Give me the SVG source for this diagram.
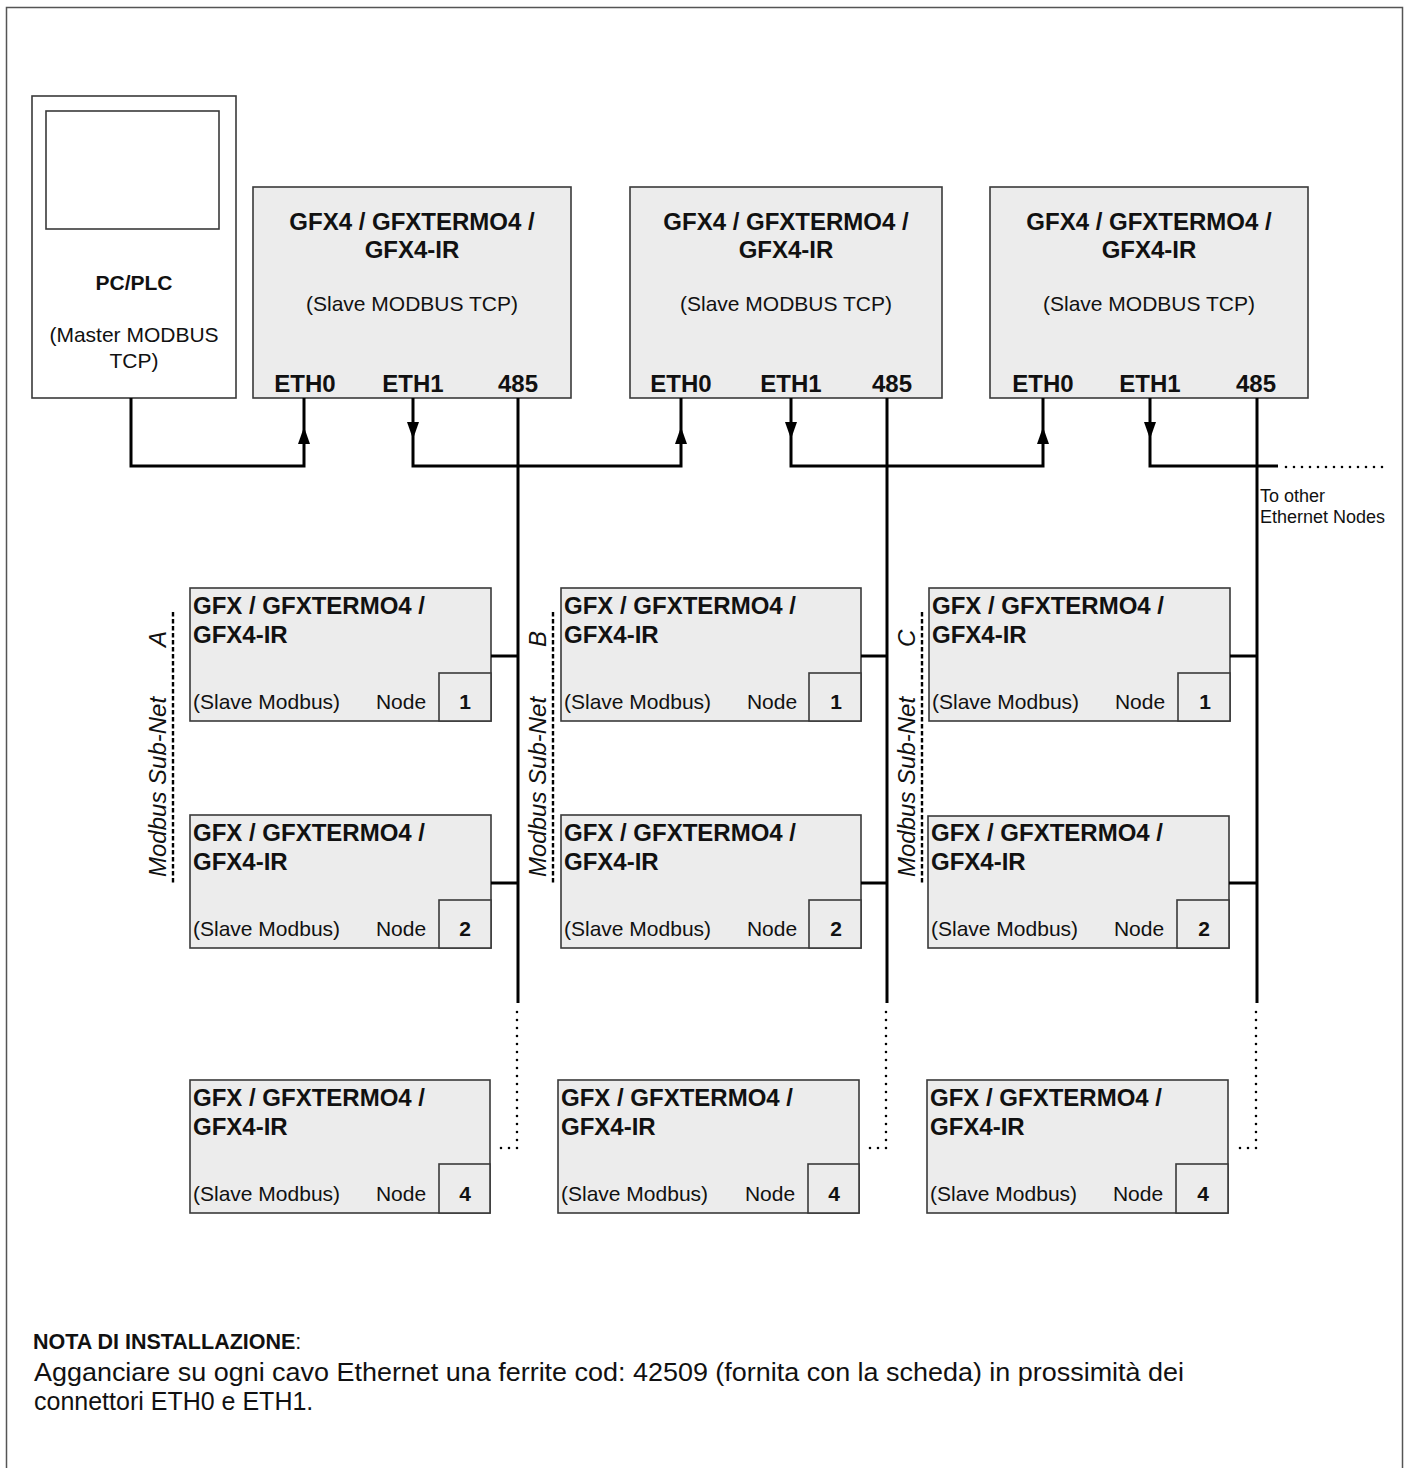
<svg xmlns="http://www.w3.org/2000/svg" width="1404" height="1468" viewBox="0 0 1404 1468">
<style>
text{font-family:"Liberation Sans",Arial,sans-serif;fill:#111}
.box{fill:#ececec;stroke:#3a3a3a;stroke-width:1.6}
.wbox{fill:#fff;stroke:#3a3a3a;stroke-width:1.6}
.b24{font-size:24px;font-weight:bold}
.r21{font-size:21px}
.b21{font-size:21px;font-weight:bold}
.wire{fill:none;stroke:#000;stroke-width:3}
.dot{fill:none;stroke:#000;stroke-width:2.6;stroke-dasharray:0 8;stroke-linecap:round}
.dash{fill:none;stroke:#000;stroke-width:2.4;stroke-dasharray:4.5 2.5}
.lbl{font-size:24px;font-style:italic}
.mid{text-anchor:middle}
</style>
<rect x="6.5" y="7.5" width="1396" height="1470" fill="none" stroke="#555" stroke-width="1.5"/>

<g id="pcplc">
<rect class="wbox" x="32" y="96" width="204" height="302"/>
<rect class="wbox" x="46" y="111" width="173" height="118"/>
<text class="b21 mid" x="134" y="290">PC/PLC</text>
<text class="r21 mid" x="134" y="342">(Master MODBUS</text>
<text class="r21 mid" x="134" y="368">TCP)</text>
</g>

<g id="gfx4-1">
<rect class="box" x="253" y="187" width="318" height="211"/>
<text class="b24 mid" x="412" y="230">GFX4 / GFXTERMO4 /</text>
<text class="b24 mid" x="412" y="258">GFX4-IR</text>
<text class="r21 mid" x="412" y="311">(Slave MODBUS TCP)</text>
<text class="b24 mid" x="305" y="392">ETH0</text>
<text class="b24 mid" x="413" y="392">ETH1</text>
<text class="b24 mid" x="518" y="392">485</text>
</g>
<g id="gfx4-2">
<rect class="box" x="630" y="187" width="312" height="211"/>
<text class="b24 mid" x="786" y="230">GFX4 / GFXTERMO4 /</text>
<text class="b24 mid" x="786" y="258">GFX4-IR</text>
<text class="r21 mid" x="786" y="311">(Slave MODBUS TCP)</text>
<text class="b24 mid" x="681" y="392">ETH0</text>
<text class="b24 mid" x="791" y="392">ETH1</text>
<text class="b24 mid" x="892" y="392">485</text>
</g>
<g id="gfx4-3">
<rect class="box" x="990" y="187" width="318" height="211"/>
<text class="b24 mid" x="1149" y="230">GFX4 / GFXTERMO4 /</text>
<text class="b24 mid" x="1149" y="258">GFX4-IR</text>
<text class="r21 mid" x="1149" y="311">(Slave MODBUS TCP)</text>
<text class="b24 mid" x="1043" y="392">ETH0</text>
<text class="b24 mid" x="1150" y="392">ETH1</text>
<text class="b24 mid" x="1256" y="392">485</text>
</g>

<!-- Sub-net A -->
<g id="a1">
<rect class="box" x="190" y="588" width="301" height="133"/>
<rect class="box" x="439" y="673" width="52" height="48"/>
<text class="b24" x="193" y="614">GFX / GFXTERMO4 /</text>
<text class="b24" x="193" y="643">GFX4-IR</text>
<text class="r21" x="193" y="709">(Slave Modbus)</text>
<text class="r21 mid" x="401" y="709">Node</text>
<text class="b21 mid" x="465" y="709">1</text>
</g>
<g id="a2">
<rect class="box" x="190" y="815" width="301" height="133"/>
<rect class="box" x="439" y="900" width="52" height="48"/>
<text class="b24" x="193" y="841">GFX / GFXTERMO4 /</text>
<text class="b24" x="193" y="870">GFX4-IR</text>
<text class="r21" x="193" y="936">(Slave Modbus)</text>
<text class="r21 mid" x="401" y="936">Node</text>
<text class="b21 mid" x="465" y="936">2</text>
</g>
<g id="a4">
<rect class="box" x="190" y="1080" width="300" height="133"/>
<rect class="box" x="439" y="1164" width="51" height="49"/>
<text class="b24" x="193" y="1106">GFX / GFXTERMO4 /</text>
<text class="b24" x="193" y="1135">GFX4-IR</text>
<text class="r21" x="193" y="1201">(Slave Modbus)</text>
<text class="r21 mid" x="401" y="1201">Node</text>
<text class="b21 mid" x="465" y="1201">4</text>
</g>

<!-- Sub-net B -->
<g id="b1">
<rect class="box" x="561" y="588" width="300" height="133"/>
<rect class="box" x="809" y="673" width="52" height="48"/>
<text class="b24" x="564" y="614">GFX / GFXTERMO4 /</text>
<text class="b24" x="564" y="643">GFX4-IR</text>
<text class="r21" x="564" y="709">(Slave Modbus)</text>
<text class="r21 mid" x="772" y="709">Node</text>
<text class="b21 mid" x="836" y="709">1</text>
</g>
<g id="b2">
<rect class="box" x="561" y="815" width="300" height="133"/>
<rect class="box" x="809" y="900" width="52" height="48"/>
<text class="b24" x="564" y="841">GFX / GFXTERMO4 /</text>
<text class="b24" x="564" y="870">GFX4-IR</text>
<text class="r21" x="564" y="936">(Slave Modbus)</text>
<text class="r21 mid" x="772" y="936">Node</text>
<text class="b21 mid" x="836" y="936">2</text>
</g>
<g id="b4">
<rect class="box" x="558" y="1080" width="301" height="133"/>
<rect class="box" x="808" y="1164" width="51" height="49"/>
<text class="b24" x="561" y="1106">GFX / GFXTERMO4 /</text>
<text class="b24" x="561" y="1135">GFX4-IR</text>
<text class="r21" x="561" y="1201">(Slave Modbus)</text>
<text class="r21 mid" x="770" y="1201">Node</text>
<text class="b21 mid" x="834" y="1201">4</text>
</g>

<!-- Sub-net C -->
<g id="c1">
<rect class="box" x="929" y="588" width="301" height="133"/>
<rect class="box" x="1178" y="673" width="52" height="48"/>
<text class="b24" x="932" y="614">GFX / GFXTERMO4 /</text>
<text class="b24" x="932" y="643">GFX4-IR</text>
<text class="r21" x="932" y="709">(Slave Modbus)</text>
<text class="r21 mid" x="1140" y="709">Node</text>
<text class="b21 mid" x="1205" y="709">1</text>
</g>
<g id="c2">
<rect class="box" x="928" y="816" width="301" height="132"/>
<rect class="box" x="1177" y="900" width="52" height="48"/>
<text class="b24" x="931" y="841">GFX / GFXTERMO4 /</text>
<text class="b24" x="931" y="870">GFX4-IR</text>
<text class="r21" x="931" y="936">(Slave Modbus)</text>
<text class="r21 mid" x="1139" y="936">Node</text>
<text class="b21 mid" x="1204" y="936">2</text>
</g>
<g id="c4">
<rect class="box" x="927" y="1080" width="301" height="133"/>
<rect class="box" x="1176" y="1164" width="52" height="49"/>
<text class="b24" x="930" y="1106">GFX / GFXTERMO4 /</text>
<text class="b24" x="930" y="1135">GFX4-IR</text>
<text class="r21" x="930" y="1201">(Slave Modbus)</text>
<text class="r21 mid" x="1138" y="1201">Node</text>
<text class="b21 mid" x="1203" y="1201">4</text>
</g>

<!-- Sub-net labels -->
<g id="subnet-labels">
<line class="dash" x1="173" y1="612" x2="173" y2="883"/>
<text class="lbl" transform="translate(166,877) rotate(-90)">Modbus Sub-Net</text>
<text class="lbl" transform="translate(166,647) rotate(-90)">A</text>
<line class="dash" x1="553" y1="612" x2="553" y2="883"/>
<text class="lbl" transform="translate(546,877) rotate(-90)">Modbus Sub-Net</text>
<text class="lbl" transform="translate(546,647) rotate(-90)">B</text>
<line class="dash" x1="922" y1="612" x2="922" y2="883"/>
<text class="lbl" transform="translate(915,877) rotate(-90)">Modbus Sub-Net</text>
<text class="lbl" transform="translate(915,647) rotate(-90)">C</text>
</g>

<g id="connectors">
<!-- Ethernet -->
<polyline class="wire" points="131,398 131,466 304,466 304,398"/>
<polyline class="wire" points="413,398 413,466 681,466 681,398"/>
<polyline class="wire" points="791,398 791,466 1043,466 1043,398"/>
<polyline class="wire" points="1150,398 1150,466 1278,466"/>
<line class="dot" x1="1286" y1="467" x2="1388" y2="467"/>
<polygon points="304,427 298,444 310,444"/>
<polygon points="681,427 675,444 687,444"/>
<polygon points="1043,427 1037,444 1049,444"/>
<polygon points="407,422 419,422 413,439"/>
<polygon points="785,422 797,422 791,439"/>
<polygon points="1144,422 1156,422 1150,439"/>
<!-- 485 buses -->
<line class="wire" x1="518" y1="398" x2="518" y2="1003"/>
<line class="wire" x1="887" y1="398" x2="887" y2="1003"/>
<line class="wire" x1="1257" y1="398" x2="1257" y2="1003"/>
<line class="wire" x1="491" y1="656" x2="518" y2="656"/>
<line class="wire" x1="491" y1="883" x2="518" y2="883"/>
<line class="wire" x1="861" y1="656" x2="887" y2="656"/>
<line class="wire" x1="861" y1="883" x2="887" y2="883"/>
<line class="wire" x1="1230" y1="656" x2="1257" y2="656"/>
<line class="wire" x1="1229" y1="883" x2="1257" y2="883"/>
<polyline class="dot" points="517,1012 517,1148 493,1148"/>
<polyline class="dot" points="886,1012 886,1148 862,1148"/>
<polyline class="dot" points="1256,1012 1256,1148 1232,1148"/>
</g>

<text font-size="18" x="1260" y="502">To other</text>
<text font-size="18" x="1260" y="523">Ethernet Nodes</text>

<g id="note">
<text x="33" y="1349" font-size="21.5"><tspan font-weight="bold">NOTA DI INSTALLAZIONE</tspan>:</text>
<text x="34" y="1381" font-size="25" textLength="1150" lengthAdjust="spacingAndGlyphs">Agganciare su ogni cavo Ethernet una ferrite cod: 42509 (fornita con la scheda) in prossimità dei</text>
<text x="34" y="1410" font-size="25">connettori ETH0 e ETH1.</text>
</g>
</svg>
